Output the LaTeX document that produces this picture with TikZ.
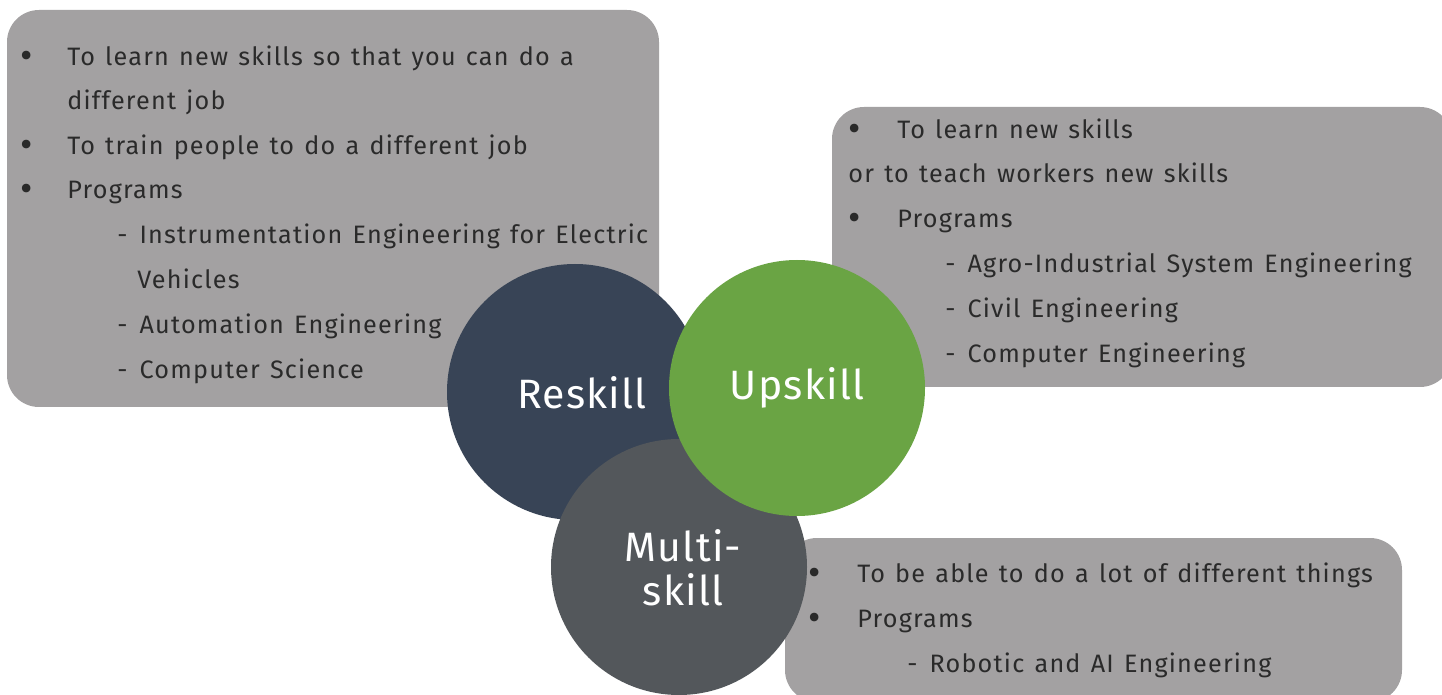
\documentclass[tikz,border=0pt]{standalone}
\usepackage{fontspec}
\setmainfont{Fira Sans}[LetterSpace=4.8,WordSpace=1.3]
\newfontfamily\circfont{Fira Sans}[LetterSpace=3]
\definecolor{boxgray}{HTML}{A3A1A2}
\definecolor{navy}{HTML}{384456}
\definecolor{leaf}{HTML}{6AA444}
\definecolor{slate}{HTML}{53575B}
\definecolor{ink}{HTML}{2A2A2A}
\begin{document}
\begin{tikzpicture}[x=0.5pt,y=-0.5pt,
  panel/.style={fill=boxgray, draw=none, rounded corners=16pt},
  txt/.style={anchor=base west, inner sep=0pt, text=ink, font=\fontsize{12.6}{14}\selectfont},
  bul/.style={anchor=base, inner sep=0pt, text=ink, font=\fontsize{19}{20}\selectfont},
  disc/.style={circle, draw=none, minimum size=128pt, inner sep=0pt},
  lab/.style={text=white, font=\circfont\fontsize{20.5}{24}\selectfont, inner sep=0pt, align=center}]
\useasboundingbox (0,0) rectangle (1442,695);
% panels
\fill[panel] (7,10) rectangle (659,407);
\fill[panel] (832,107) rectangle (1452,387);
\fill[panel] (785,538) rectangle (1402,702);
% left panel text
\node[bul] (b1) at (27,69) {•};
\node[txt] (t1) at (67,66) {To learn new skills so that you can do a};
\node[txt] (t2) at (67,110) {different job};
\node[bul] (b2) at (27,158) {•};
\node[txt] (t3) at (67,155) {To train people to do a different job};
\node[bul] (b3) at (27,202) {•};
\node[txt] (t4) at (67,199) {Programs};
\node[txt] (t5) at (117,244) {-\hspace{6pt}Instrumentation Engineering for Electric};
\node[txt] (t6) at (137,289) {Vehicles};
\node[txt] (t7) at (117,334) {-\hspace{6pt}Automation Engineering};
\node[txt] (t8) at (117,379) {-\hspace{6pt}Computer Science};
% right panel text
\node[bul] (c1) at (855,142) {•};
\node[txt] (u1) at (897,139) {To learn new skills};
\node[txt] (u2) at (848,183) {or to teach workers new skills};
\node[bul] (c2) at (855,231) {•};
\node[txt] (u3) at (897,228) {Programs};
\node[txt] (u4) at (945,273) {-\hspace{6pt}Agro-Industrial System Engineering};
\node[txt] (u5) at (945,318) {-\hspace{6pt}Civil Engineering};
\node[txt] (u6) at (945,363) {-\hspace{6pt}Computer Engineering};
% bottom panel text
\node[bul] (d1) at (815,585) {•};
\node[txt] (m1) at (857,582) {To be able to do a lot of different things};
\node[bul] (d2) at (815,630) {•};
\node[txt] (m2) at (857,627) {Programs};
\node[txt] (m3) at (907,672) {-\hspace{6pt}Robotic and AI Engineering};
% circles
\node[disc, fill=navy] (res) at (575,392) {};
\node[disc, fill=slate] (mul) at (679,567) {};
\node[disc, fill=leaf] (ups) at (797,388) {};
\node[lab] (resl) at (582,393) {Reskill};
\node[lab] (upsl) at (797,388) {Upskill};
\node[lab] (mull) at (683,568) {Multi-\\[-2pt]skill};
\end{tikzpicture}
\end{document}
